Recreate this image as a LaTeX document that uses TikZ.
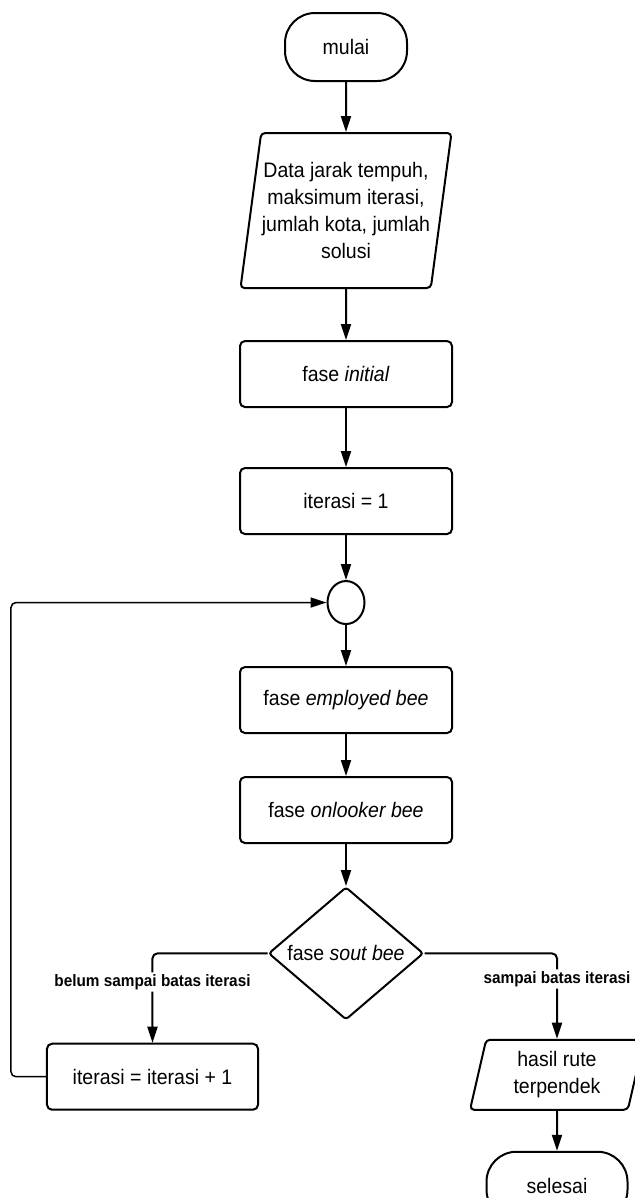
\documentclass[tikz,border=0pt]{standalone}
\usepackage{fontspec}
\setmainfont[FakeStretch=0.93]{Liberation Sans}
\usetikzlibrary{shapes.geometric, arrows.meta, positioning}

\begin{document}
\begin{tikzpicture}[
        x=1bp, y=1bp,
        node distance=42bp,
        font=\fontsize{21bp}{27bp}\selectfont,
        % Estilos para nodos
        termbox/.style={
                rectangle,
                rounded corners=30bp,
                draw,
                line width=2bp,
                minimum width=122bp,
                minimum height=68bp,
                inner sep=0pt
            },
        iobox/.style={
                trapezium,
                trapezium left angle=78,
                trapezium right angle=102,
                trapezium stretches=true,
                rounded corners=4bp,
                draw,
                line width=2bp,
                align=center,
                inner sep=0pt
            },
        procbox/.style={
                rectangle,
                rounded corners=5bp,
                draw,
                line width=2bp,
                minimum width=212bp,
                minimum height=66bp,
                inner sep=0pt
            },
        joinpoint/.style={
                ellipse,
                draw,
                line width=2bp,
                minimum width=37bp,
                minimum height=43bp,
                inner sep=0pt
            },
        decision/.style={
                diamond,
                rounded corners=3bp,
                draw,
                line width=2bp,
                minimum width=155bp,
                minimum height=128bp,
                inner sep=0pt
            },
        branchlabel/.style={
                fill=white,
                inner sep=2bp,
                font=\fontsize{16.5bp}{19bp}\selectfont\bfseries
            },
        % Flechas
        arrow/.style={
                -{Triangle[length=16bp,width=10bp]},
                line width=2bp,
                rounded corners=5bp
            }
    ]

    \useasboundingbox (0,0) rectangle (635,-1198);
    \clip (0,0) rectangle (635,-1198);

    % MULAI (arriba)
    \node[termbox] (mulai) at (346,-47) {mulai};

    % ENTRADA
    \node[iobox, minimum width=211bp, minimum height=155bp, below=50bp of mulai] (data)
        {Data jarak tempuh,\\maksimum iterasi,\\jumlah kota, jumlah\\solusi};

    % FASE INITIAL
    \node[procbox, below=51bp of data] (initial) {fase \textit{initial}};
    \node[procbox, below=59bp of initial] (iterawal) {iterasi = 1};

    % TITIK GABUNG
    \node[joinpoint, below=45bp of iterawal] (gabung) {};

    % FASE EMPLOYED / ONLOOKER
    \node[procbox, below=41bp of gabung] (employed) {fase \textit{employed bee}};
    \node[procbox, below=of employed] (onlooker) {fase \textit{onlooker bee}};

    % FASE SOUT (keputusan)
    \node[decision, below=of onlooker] (sout) {fase \textit{sout bee}};

    % CABANG KIRI
    \node[procbox, minimum width=211bp, below=22bp of sout, xshift=-193.5bp] (tambah) {iterasi = iterasi + 1};

    % CABANG KANAN
    \node[iobox, minimum width=174bp, minimum height=70bp, below=18bp of sout, xshift=211bp] (hasil)
        {hasil rute\\terpendek};
    \node[termbox, minimum width=141bp, below=40bp of hasil] (selesai) {selesai};

    % FLECHAS
    \draw[arrow] (mulai) -- (data);
    \draw[arrow] (data) -- (initial);
    \draw[arrow] (initial) -- (iterawal);
    \draw[arrow] (iterawal) -- (gabung);
    \draw[arrow] (gabung) -- (employed);
    \draw[arrow] (employed) -- (onlooker);
    \draw[arrow] (onlooker) -- (sout);
    \draw[arrow] (sout.west) -| (tambah.north)
        node[branchlabel, pos=0.66] {belum sampai batas iterasi};
    \draw[arrow] (sout.east) -| (hasil.north)
        node[branchlabel, pos=0.65] {sampai batas iterasi};
    \draw[arrow] (hasil) -- (selesai);
    \draw[arrow, line width=1.5bp] (tambah.west) -- ++(-35bp,0) |- (gabung.west);

\end{tikzpicture}
\end{document}
